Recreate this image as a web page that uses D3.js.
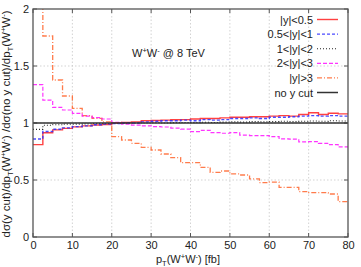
<!DOCTYPE html>
<html><head><meta charset="utf-8">
<script src="https://cdn.jsdelivr.net/npm/d3@7"></script>
<style>body{margin:0;background:#fff}svg{display:block}text{font-family:"Liberation Sans",Arial,sans-serif}</style>
</head><body><svg id="c" width="361" height="267"></svg>
<script>
const binEdges = [0,2.5,5,7.5,10,12.5,15,17.5,20,22.5,25,27.5,30,32.5,35,37.5,40,42.5,45,47.5,50,52.5,55,57.5,60,62.5,65,67.5,70,72.5,75,77.5];
const yAbsLt05 = [0.81,0.915,0.94,0.953,0.966,0.975,0.982,0.987,1.0,1.005,1.01,1.02,1.022,1.025,1.028,1.03,1.035,1.04,1.04,1.045,1.05,1.05,1.055,1.055,1.06,1.065,1.06,1.075,1.09,1.075,1.085,1.08];
const y05to1 = [0.86,0.925,0.945,0.957,0.968,0.975,0.984,0.99,0.995,1.0,1.0,1.01,1.015,1.02,1.02,1.025,1.02,1.03,1.025,1.03,1.04,1.04,1.045,1.04,1.05,1.05,1.055,1.06,1.065,1.06,1.065,1.06];
const y1to2 = [0.944,0.98,0.985,0.99,0.99,0.992,0.995,0.995,0.996,0.998,1.0,1.0,1.002,1.0,1.003,1.005,1.003,1.006,1.005,1.008,1.01,1.008,1.012,1.01,1.012,1.015,1.012,1.015,1.018,1.015,1.02,1.018];
const y2to3 = [1.336,1.2,1.137,1.114,1.085,1.061,1.047,1.035,1.005,0.99,0.982,0.975,0.968,0.965,0.955,0.947,0.924,0.935,0.915,0.91,0.915,0.893,0.89,0.889,0.88,0.86,0.858,0.834,0.836,0.822,0.81,0.79];
const yGt3 = [2.3,1.763,1.377,1.237,1.129,1.064,1.041,1.01,0.88,0.851,0.822,0.787,0.763,0.728,0.696,0.652,0.652,0.611,0.567,0.579,0.553,0.544,0.509,0.477,0.482,0.436,0.436,0.398,0.389,0.389,0.377,0.31];
const noCut = binEdges.map(()=>1.0);
const xTicks = [0,10,20,30,40,50,60,70,80];
const yTicks = [0,0.5,1,1.5,2];
const labels = ["|y|<0.5","0.5<|y|<1","1<|y|<2","2<|y|<3","|y|>3","no y cut"];

const svg = d3.select("#c");
const L=33,R=348,T=9,B=237;
const x = d3.scaleLinear().domain([0,80]).range([L,R]);
const y = d3.scaleLinear().domain([0,2]).range([B,T]);

svg.append("defs").append("clipPath").attr("id","clip").append("rect")
  .attr("x",L).attr("y",T).attr("width",R-L).attr("height",B-T);

// grid
const g = svg.append("g");
xTicks.slice(1,-1).forEach(t=>g.append("line").attr("x1",x(t)).attr("x2",x(t)).attr("y1",T).attr("y2",B)
  .attr("stroke","#c8c8c8").attr("stroke-width",0.8).attr("stroke-dasharray","1.5,2"));
yTicks.slice(1,-1).forEach(t=>g.append("line").attr("x1",L).attr("x2",R).attr("y1",y(t)).attr("y2",y(t))
  .attr("stroke","#c8c8c8").attr("stroke-width",0.8).attr("stroke-dasharray","1.5,2"));

// axes
const fs = 11;
const ax = svg.append("g").attr("transform",`translate(0,${B})`).call(d3.axisBottom(x).tickValues(xTicks).tickSize(0).tickPadding(4));
const ay = svg.append("g").attr("transform",`translate(${L},0)`).call(d3.axisLeft(y).tickValues(yTicks).tickFormat(d3.format("~g")).tickSize(0).tickPadding(4));
[ax,ay].forEach(a=>{a.select(".domain").remove();a.selectAll("text").attr("font-size",fs).attr("fill","#222").style("font-family","Liberation Sans, Arial, sans-serif");});
// inward ticks on all sides
xTicks.forEach(t=>{svg.append("line").attr("x1",x(t)).attr("x2",x(t)).attr("y1",B).attr("y2",B-4).attr("stroke","#555");
  svg.append("line").attr("x1",x(t)).attr("x2",x(t)).attr("y1",T).attr("y2",T+4).attr("stroke","#555");});
yTicks.forEach(t=>{svg.append("line").attr("x1",L).attr("x2",L+4).attr("y1",y(t)).attr("y2",y(t)).attr("stroke","#555");
  svg.append("line").attr("x1",R).attr("x2",R-4).attr("y1",y(t)).attr("y2",y(t)).attr("stroke","#555");});

// series
const series = [
  {vals:yAbsLt05, color:"#ff2020", dash:null, w:1.4, op:0.85},
  {vals:y05to1, color:"#2b2bff", dash:"3,2", w:1.4, op:0.85},
  {vals:y1to2, color:"#222", dash:"1,2", w:1.1, op:1},
  {vals:y2to3, color:"#ff10ff", dash:"4,2", w:1.2, op:0.85},
  {vals:yGt3, color:"#ff5a1e", dash:"5,2,1,2", w:1.3, op:0.8},
  {vals:noCut, color:"#333", dash:null, w:1.5, op:1}
];
const line = d3.line().x(d=>x(d[0])).y(d=>y(d[1])).curve(d3.curveStepAfter);
const plot = svg.append("g").attr("clip-path","url(#clip)");
const order=[4,3,2,0,1,5];
order.forEach(i=>{const s=series[i];
  const pts = binEdges.map((e,k)=>[e,s.vals[k]]); pts.push([80,s.vals[s.vals.length-1]]);
  plot.append("path").attr("d",line(pts)).attr("fill","none").attr("stroke",s.color)
   .attr("stroke-width",s.w).attr("stroke-opacity",s.op).attr("stroke-dasharray",s.dash);
});

// frame
svg.append("rect").attr("x",L).attr("y",T).attr("width",R-L).attr("height",B-T).attr("fill","none").attr("stroke","#555").attr("stroke-width",1.3);

// legend
const lg = svg.append("g");
labels.forEach((lab,i)=>{const s=series[i]; const yy = 19.5 + i*14.6;
  lg.append("text").attr("x",313).attr("y",yy+4).attr("text-anchor","end").attr("font-size",fs).attr("fill","#222").text(lab);
  lg.append("line").attr("x1",317).attr("x2",338).attr("y1",yy).attr("y2",yy).attr("stroke",s.color)
    .attr("stroke-width",s.w).attr("stroke-dasharray",s.dash).attr("stroke-opacity",s.op);
});

// title
const tt = svg.append("text").attr("x",132).attr("y",57).attr("font-size",fs).attr("fill","#222");
tt.append("tspan").text("W");
tt.append("tspan").attr("dy",-4).attr("font-size",7.5).text("+");
tt.append("tspan").attr("dy",4).text("W");
tt.append("tspan").attr("dy",-4).attr("font-size",7.5).text("-");
tt.append("tspan").attr("dy",4).text(" @ 8 TeV");

// x label
const xl = svg.append("text").attr("x",188).attr("y",263).attr("text-anchor","middle").attr("font-size",fs).attr("fill","#222");
xl.append("tspan").text("p");
xl.append("tspan").attr("dy",3).attr("font-size",7.5).text("T");
xl.append("tspan").attr("dy",-3).text("(W");
xl.append("tspan").attr("dy",-4).attr("font-size",7.5).text("+");
xl.append("tspan").attr("dy",4).text("W");
xl.append("tspan").attr("dy",-4).attr("font-size",7.5).text("-");
xl.append("tspan").attr("dy",4).text(") [fb]");

// y label
const yl = svg.append("text").attr("transform","translate(10,124) rotate(-90)").attr("text-anchor","middle").attr("font-size",11.5).attr("fill","#222");
yl.append("tspan").text("dσ(y cut)/dp");
yl.append("tspan").attr("dy",3).attr("font-size",7.5).text("T");
yl.append("tspan").attr("dy",-3).text("(W");
yl.append("tspan").attr("dy",-4).attr("font-size",7.5).text("+");
yl.append("tspan").attr("dy",4).text("W");
yl.append("tspan").attr("dy",-4).attr("font-size",7.5).text("-");
yl.append("tspan").attr("dy",4).text(") /dσ(no y cut)/dp");
yl.append("tspan").attr("dy",3).attr("font-size",7.5).text("T");
yl.append("tspan").attr("dy",-3).text("(W");
yl.append("tspan").attr("dy",-4).attr("font-size",7.5).text("+");
yl.append("tspan").attr("dy",4).text("W");
yl.append("tspan").attr("dy",-4).attr("font-size",7.5).text("-");
yl.append("tspan").attr("dy",4).text(")");
</script></body></html>
